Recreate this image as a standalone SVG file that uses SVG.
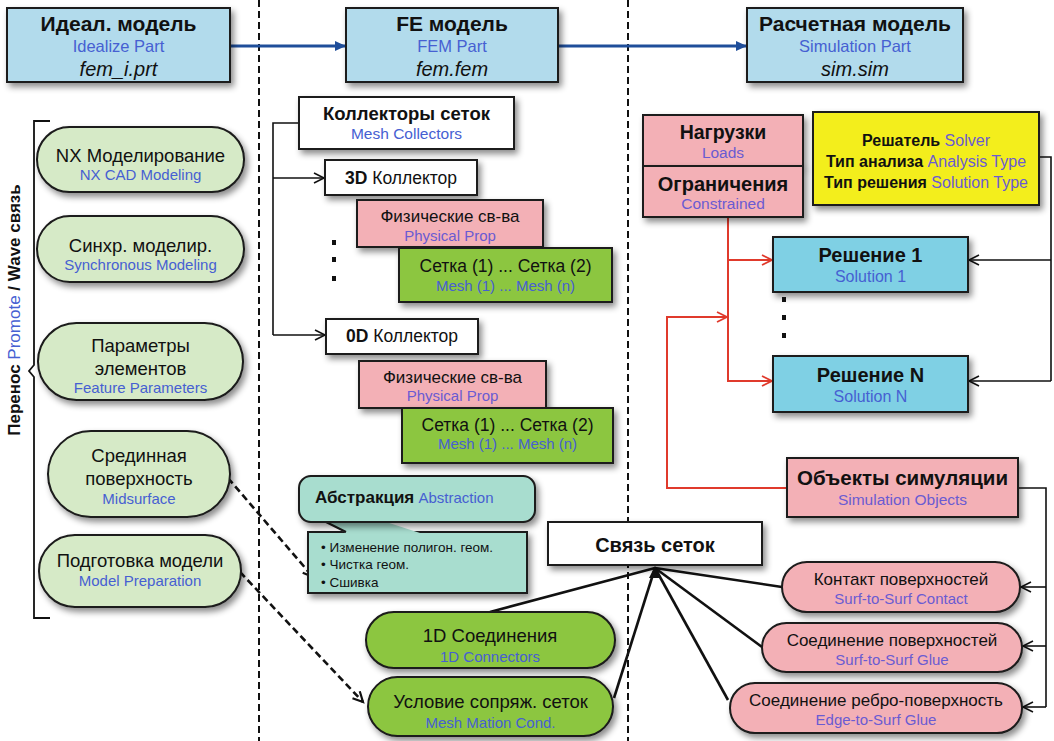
<svg xmlns="http://www.w3.org/2000/svg" width="1054" height="741" viewBox="0 0 1054 741">
<defs>
<filter id="sh" x="-10%" y="-15%" width="125%" height="150%"><feDropShadow dx="3" dy="4" stdDeviation="3" flood-color="#000" flood-opacity="0.45"/></filter>
<marker id="ab" markerWidth="12" markerHeight="12" refX="10" refY="5" orient="auto" markerUnits="userSpaceOnUse"><path d="M0,0 L11,5 L0,10 Z" fill="#1f4e9a"/></marker>
<marker id="ok" markerWidth="14" markerHeight="12" refX="11" refY="6" orient="auto" markerUnits="userSpaceOnUse"><path d="M1,1 L11,6 L1,11" fill="none" stroke="#111" stroke-width="1.6"/></marker>
<marker id="or" markerWidth="14" markerHeight="12" refX="11" refY="6" orient="auto" markerUnits="userSpaceOnUse"><path d="M1,1 L11,6 L1,11" fill="none" stroke="#e03a2c" stroke-width="1.8"/></marker>
<marker id="od" markerWidth="14" markerHeight="12" refX="11" refY="6" orient="auto" markerUnits="userSpaceOnUse"><path d="M1,1 L11,6 L1,11" fill="none" stroke="#111" stroke-width="2.2"/></marker>
</defs>
<style>
text{font-family:"Liberation Sans",Arial,sans-serif;fill:#111}
.c{text-anchor:middle}
.b{font-weight:bold}
.en{fill:#4660d2}
.ep{fill:#6a5bd2}
.i{font-style:italic}
.bx{stroke:#1a1a1a;stroke-width:2}
.blue{fill:#b2dbec}
.cyan{fill:#7fd0e4}
.pink{fill:#f3b0b6}
.yel{fill:#f3ee1c}
.lg{fill:#d6eac7}
.dg{fill:#8cc63f}
.teal{fill:#a8ddcf}
.wh{fill:#fff}
.ln{fill:none;stroke:#111;stroke-width:1.6}
.rd{fill:none;stroke:#e03a2c;stroke-width:2}
.cv{fill:none;stroke:#111;stroke-width:2.6}
.dsh{fill:none;stroke:#111;stroke-width:2.6;stroke-dasharray:7 4}
</style>
<rect width="1054" height="741" fill="#fff"/>
<g id="separators">
<line x1="259" y1="0" x2="259" y2="741" stroke="#111" stroke-width="2" stroke-dasharray="7 4"/>
<line x1="628" y1="0" x2="628" y2="741" stroke="#111" stroke-width="2" stroke-dasharray="7 4"/>
</g>
<g id="bracket">
<path d="M50,121 H34 V365 L29,371 L34,377 V618 H50" fill="none" stroke="#111" stroke-width="1.8"/>
<text transform="translate(20,310) rotate(-90)" class="c b" font-size="17">Перенос <tspan class="en" font-weight="normal">Promote</tspan> / Wave связь</text>
</g>
<g id="connectors">
<line x1="230" y1="46" x2="345" y2="46" stroke="#1f4e9a" stroke-width="3" marker-end="url(#ab)"/>
<line x1="558" y1="46" x2="746" y2="46" stroke="#1f4e9a" stroke-width="3" marker-end="url(#ab)"/>
<path class="ln" d="M299,123 H273 V335"/>
<line class="ln" x1="273" y1="178" x2="324" y2="178" marker-end="url(#ok)"/>
<line class="ln" x1="273" y1="335" x2="325" y2="335" marker-end="url(#ok)"/>
<path class="rd" d="M728,217 V381 H772" marker-end="url(#or)"/>
<line class="rd" x1="728" y1="260" x2="772" y2="260" marker-end="url(#or)"/>
<path class="rd" d="M787,488 H667 V317 H727" marker-end="url(#or)"/>
<path class="ln" d="M1039,157 H1051 V381"/>
<line class="ln" x1="1051" y1="260" x2="969" y2="260" marker-end="url(#ok)"/>
<line class="ln" x1="1051" y1="381" x2="969" y2="381" marker-end="url(#ok)"/>
<path class="ln" d="M1018,488 H1046 V707" stroke-width="2"/>
<line class="ln" x1="1046" y1="587" x2="1021" y2="587" marker-end="url(#ok)"/>
<line class="ln" x1="1046" y1="646" x2="1023" y2="646" marker-end="url(#ok)"/>
<line class="ln" x1="1046" y1="707" x2="1023" y2="707" marker-end="url(#ok)"/>
<line class="cv" x1="490" y1="612" x2="655" y2="568"/>
<line class="cv" x1="614" y1="698" x2="655" y2="568"/>
<line class="cv" x1="782" y1="587" x2="655" y2="568"/>
<line class="cv" x1="762" y1="647" x2="655" y2="568"/>
<line class="cv" x1="728" y1="700" x2="655" y2="568"/>
<polygon points="655,566 649,578 661,578" fill="#111"/>
<line class="dsh" x1="228" y1="478" x2="313" y2="577" marker-end="url(#od)"/>
<line class="dsh" x1="240" y1="572" x2="363" y2="702" marker-end="url(#od)"/>
</g>
<g id="idealize-part">
<rect class="bx blue" x="7" y="8" width="223" height="74" filter="url(#sh)"/>
<text x="118.5" y="31" class="c b" font-size="21">Идеал. модель</text>
<text x="118.5" y="52" class="c en" font-size="16.5">Idealize Part</text>
<text x="118.5" y="76" class="c i" font-size="20">fem_i.prt</text>
</g>
<g id="fem-part">
<rect class="bx blue" x="346" y="8" width="212" height="74" filter="url(#sh)"/>
<text x="452" y="31" class="c b" font-size="21">FE модель</text>
<text x="452" y="52" class="c en" font-size="16.5">FEM Part</text>
<text x="452" y="76" class="c i" font-size="20">fem.fem</text>
</g>
<g id="sim-part">
<rect class="bx blue" x="747" y="8" width="216" height="74" filter="url(#sh)"/>
<text x="855" y="31" class="c b" font-size="21">Расчетная модель</text>
<text x="855" y="52" class="c en" font-size="16.5">Simulation Part</text>
<text x="855" y="76" class="c i" font-size="20">sim.sim</text>
</g>
<g id="nx-modeling">
<rect class="bx lg" x="37" y="127" width="207" height="65" rx="32.5" filter="url(#sh)"/>
<text x="140.5" y="162" class="c" font-size="18.5">NX Моделирование</text>
<text x="140.5" y="180" class="c en" font-size="15">NX CAD Modeling</text>
</g>
<g id="sync-modeling">
<rect class="bx lg" x="37" y="216" width="207" height="66" rx="33" filter="url(#sh)"/>
<text x="140.5" y="252" class="c" font-size="18.5">Синхр. моделир.</text>
<text x="140.5" y="270" class="c en" font-size="15">Synchronous Modeling</text>
</g>
<g id="feature-params">
<rect class="bx lg" x="38" y="323" width="205" height="77" rx="38.5" filter="url(#sh)"/>
<text x="140.5" y="352" class="c" font-size="18.5">Параметры</text>
<text x="140.5" y="375" class="c" font-size="18.5">элементов</text>
<text x="140.5" y="393" class="c en" font-size="15">Feature Parameters</text>
</g>
<g id="midsurface">
<rect class="bx lg" x="48" y="431" width="182" height="86" rx="43" filter="url(#sh)"/>
<text x="139" y="462" class="c" font-size="18.5">Срединная</text>
<text x="139" y="485" class="c" font-size="18.5">поверхность</text>
<text x="139" y="504" class="c en" font-size="15">Midsurface</text>
</g>
<g id="model-prep">
<rect class="bx lg" x="39" y="535" width="202" height="72" rx="36" filter="url(#sh)"/>
<text x="140" y="567" class="c" font-size="18.5">Подготовка модели</text>
<text x="140" y="586" class="c en" font-size="15">Model Preparation</text>
</g>
<g id="mesh-collectors">
<rect class="bx wh" x="299" y="97" width="215" height="52" filter="url(#sh)"/>
<text x="406.5" y="120" class="c b" font-size="18.5">Коллекторы сеток</text>
<text x="406.5" y="139" class="c en" font-size="15.5">Mesh Collectors</text>
</g>
<g id="collector-3d">
<rect class="bx wh" x="325" y="160" width="152" height="35" filter="url(#sh)"/>
<text x="401" y="184" class="c" font-size="17.5"><tspan class="b">3D</tspan> Коллектор</text>
</g>
<g id="phys-prop-1">
<rect class="bx pink" x="357" y="200" width="186" height="47" filter="url(#sh)"/>
<text x="450" y="222" class="c" font-size="17">Физические св-ва</text>
<text x="450" y="241" class="c ep" font-size="15">Physical Prop</text>
</g>
<g id="mesh-1">
<rect class="bx dg" x="399" y="248" width="213" height="54" filter="url(#sh)"/>
<text x="505.5" y="272" class="c" font-size="17.5">Сетка (1) ... Сетка (2)</text>
<text x="505.5" y="291" class="c en" font-size="15">Mesh (1) ... Mesh (n)</text>
</g>
<g id="dots-collectors">
<rect x="332" y="240" width="4" height="5" fill="#111"/>
<rect x="332" y="257" width="4" height="5" fill="#111"/>
<rect x="332" y="276" width="4" height="5" fill="#111"/>
</g>
<g id="collector-0d">
<rect class="bx wh" x="326" y="319" width="152" height="35" filter="url(#sh)"/>
<text x="402" y="342" class="c" font-size="17.5"><tspan class="b">0D</tspan> Коллектор</text>
</g>
<g id="phys-prop-2">
<rect class="bx pink" x="359" y="361" width="187" height="47" filter="url(#sh)"/>
<text x="452.5" y="383" class="c" font-size="17">Физические св-ва</text>
<text x="452.5" y="401" class="c ep" font-size="15">Physical Prop</text>
</g>
<g id="mesh-2">
<rect class="bx dg" x="402" y="408" width="211" height="55" filter="url(#sh)"/>
<text x="507.5" y="431" class="c" font-size="17.5">Сетка (1) ... Сетка (2)</text>
<text x="507.5" y="449" class="c en" font-size="15">Mesh (1) ... Mesh (n)</text>
</g>
<g id="abstraction">
<rect class="bx teal" x="308" y="532" width="219" height="61" filter="url(#sh)"/>
<polygon points="322,520 346,533 420,533 380,520" class="teal"/>
<line x1="322" y1="520" x2="346" y2="532" stroke="#1a1a1a" stroke-width="2"/>
<rect class="bx teal" x="299" y="476" width="236" height="46" rx="12" filter="url(#sh)"/>
<text x="315" y="503" font-size="17"><tspan class="b">Абстракция</tspan><tspan class="en" font-size="15"> Abstraction</tspan></text>
<text x="321" y="552" font-size="13.5">•  Изменение полигон. геом.</text>
<text x="321" y="569" font-size="13.5">•  Чистка геом.</text>
<text x="321" y="587" font-size="13.5">•  Сшивка</text>
</g>
<g id="connectors-1d">
<rect class="bx dg" x="366" y="612" width="249" height="56" rx="28" filter="url(#sh)"/>
<text x="490" y="642" class="c" font-size="18.5">1D Соединения</text>
<text x="490" y="662" class="c en" font-size="15">1D Connectors</text>
</g>
<g id="mesh-mating">
<rect class="bx dg" x="368" y="677" width="245" height="59" rx="29.5" filter="url(#sh)"/>
<text x="490.5" y="708" class="c" font-size="18.5">Условие сопряж. сеток</text>
<text x="490.5" y="728" class="c en" font-size="15">Mesh Mation Cond.</text>
</g>
<g id="loads">
<rect class="bx pink" x="643" y="115" width="160" height="51" filter="url(#sh)"/>
<text x="723" y="139" class="c b" font-size="19.5">Нагрузки</text>
<text x="723" y="158" class="c ep" font-size="15.5">Loads</text>
</g>
<g id="constraints">
<rect class="bx pink" x="643" y="166" width="160" height="51" filter="url(#sh)"/>
<text x="723" y="191" class="c b" font-size="20">Ограничения</text>
<text x="723" y="209" class="c ep" font-size="15.5">Constrained</text>
</g>
<g id="solver">
<rect class="bx yel" x="813" y="112" width="226" height="93" filter="url(#sh)"/>
<text x="926" y="146" class="c" font-size="16"><tspan class="b">Решатель</tspan><tspan class="ep"> Solver</tspan></text>
<text x="926" y="167" class="c" font-size="16"><tspan class="b">Тип анализа</tspan><tspan class="ep"> Analysis Type</tspan></text>
<text x="926" y="188" class="c" font-size="16"><tspan class="b">Тип решения</tspan><tspan class="ep"> Solution Type</tspan></text>
</g>
<g id="solution-1">
<rect class="bx cyan" x="773" y="237" width="195" height="55" filter="url(#sh)"/>
<text x="870.5" y="262" class="c b" font-size="20">Решение 1</text>
<text x="870.5" y="282" class="c en" font-size="16">Solution 1</text>
</g>
<g id="dots-solutions">
<rect x="782" y="297" width="4" height="5" fill="#111"/>
<rect x="782" y="315" width="4" height="5" fill="#111"/>
<rect x="782" y="333" width="4" height="5" fill="#111"/>
</g>
<g id="solution-n">
<rect class="bx cyan" x="773" y="356" width="195" height="56" filter="url(#sh)"/>
<text x="870.5" y="382" class="c b" font-size="20">Решение N</text>
<text x="870.5" y="402" class="c en" font-size="16">Solution N</text>
</g>
<g id="sim-objects">
<rect class="bx pink" x="787" y="458" width="231" height="59" filter="url(#sh)"/>
<text x="902.5" y="485" class="c b" font-size="20.5">Объекты симуляции</text>
<text x="902.5" y="505" class="c ep" font-size="15.5">Simulation Objects</text>
</g>
<g id="mesh-link">
<rect class="bx wh" x="548" y="522" width="214" height="43" filter="url(#sh)"/>
<text x="655" y="552" class="c b" font-size="20">Связь сеток</text>
</g>
<g id="surf-contact">
<rect class="bx pink" x="782" y="562" width="238" height="50" rx="25" filter="url(#sh)"/>
<text x="901" y="585" class="c" font-size="17">Контакт поверхностей</text>
<text x="901" y="604" class="c ep" font-size="15">Surf-to-Surf Contact</text>
</g>
<g id="surf-glue">
<rect class="bx pink" x="762" y="623" width="260" height="49" rx="24.5" filter="url(#sh)"/>
<text x="892" y="646" class="c" font-size="17">Соединение поверхностей</text>
<text x="892" y="665" class="c ep" font-size="15">Surf-to-Surf Glue</text>
</g>
<g id="edge-glue">
<rect class="bx pink" x="730" y="683" width="292" height="50" rx="25" filter="url(#sh)"/>
<text x="876" y="706" class="c" font-size="17">Соединение ребро-поверхность</text>
<text x="876" y="725" class="c ep" font-size="15">Edge-to-Surf Glue</text>
</g>
</svg>
